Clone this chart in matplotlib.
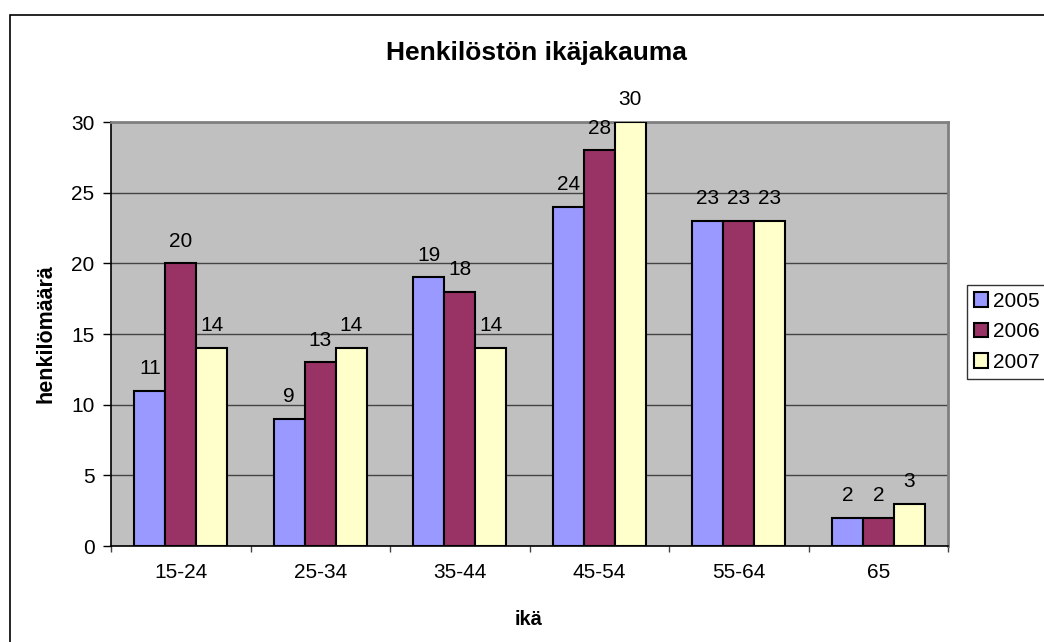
import matplotlib
matplotlib.use("Agg")
import matplotlib.pyplot as plt
from matplotlib.patches import Rectangle
import numpy as np

plt.rcParams["font.family"] = ["Liberation Sans", "DejaVu Sans"]

categories = ["15-24", "25-34", "35-44", "45-54", "55-64", "65"]
years = ["2005", "2006", "2007"]
values_2005 = [11, 9, 19, 24, 23, 2]
values_2006 = [20, 13, 18, 28, 23, 2]
values_2007 = [14, 14, 14, 30, 23, 3]

colors = ["#9999FF", "#993366", "#FFFFCC"]

W, H = 1044, 642
fig = plt.figure(figsize=(W / 100, H / 100), dpi=100)

# outer chart frame (runs off the right and bottom edge in the original)
fig.patches.append(Rectangle((10 / W, -0.1), 1.2, 1 - 15 / H + 0.1,
                             transform=fig.transFigure, fill=False,
                             edgecolor="black", linewidth=1.2))

ax = fig.add_axes([111 / W, 1 - 546 / H, (948 - 111) / W, (546 - 122) / H])
ax.set_facecolor("#C0C0C0")

x = np.arange(len(categories))
bw = 0.222
series = [values_2005, values_2006, values_2007]
for i, (vals, c, lab) in enumerate(zip(series, colors, years)):
    pos = x + (i - 1) * bw
    bars = ax.bar(pos, vals, width=bw, color=c, edgecolor="black",
                  linewidth=1.5, label=lab, zorder=3)
    for b, v in zip(bars, vals):
        ax.annotate(str(v), xy=(b.get_x() + b.get_width() / 2, v),
                    xytext=(0, 12), textcoords="offset points",
                    ha="center", va="baseline", fontsize=15, zorder=4,
                    annotation_clip=False)

ax.set_xlim(-0.5, len(categories) - 0.5)
ax.set_ylim(0, 30)
ax.set_yticks(range(0, 31, 5))
ax.yaxis.grid(True, color="#444444", linewidth=1, zorder=1)
ax.set_axisbelow(True)

ax.set_xticks(x)
ax.set_xticklabels(categories, fontsize=15)
ax.set_xticks(np.arange(-0.5, len(categories)), minor=True)
ax.tick_params(axis="x", which="major", length=0, pad=12)
ax.tick_params(axis="x", which="minor", length=4.5, width=1, color="#444444")
ax.tick_params(axis="y", labelsize=15, length=5.8, width=1, pad=6)

for s in ["left", "bottom"]:
    ax.spines[s].set_color("black")
    ax.spines[s].set_linewidth(1.2)
for s in ["top", "right"]:
    ax.spines[s].set_color("#808080")
    ax.spines[s].set_linewidth(2)

fig.text(46 / W, 1 - 334 / H, "henkilömäärä", rotation=90, ha="center",
         va="center", fontsize=15.5, fontweight="bold")
fig.text(529 / W, 1 - 625 / H, "ikä", ha="center", va="baseline",
         fontsize=14.5, fontweight="bold")
fig.text(536 / W, 1 - 60 / H, "Henkilöstön ikäjakauma", ha="center",
         va="baseline", fontsize=19, fontweight="bold")

leg = ax.legend(loc="upper left", bbox_to_anchor=(967 / W, 1 - 285 / H),
                bbox_transform=fig.transFigure, fontsize=15, frameon=True,
                fancybox=False, edgecolor="black", handlelength=0.7,
                handleheight=0.7, handletextpad=0.2, labelspacing=0.55,
                borderpad=0.33, borderaxespad=0)
leg.get_frame().set_linewidth(1)

fig.savefig("out.png", dpi=100)
